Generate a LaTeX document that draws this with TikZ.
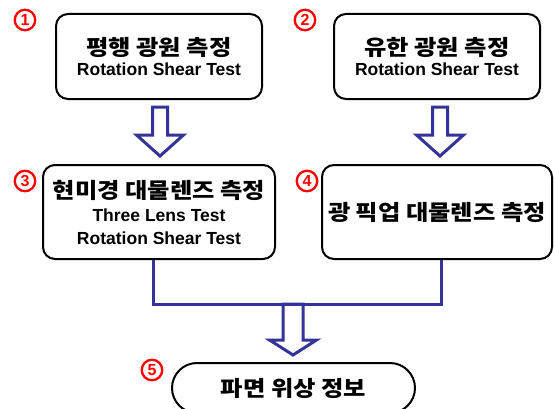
\documentclass[tikz,border=0pt]{standalone}
\usepackage{fontspec}
\setmainfont{Liberation Sans}
\newfontfamily\kr{Noto Sans CJK KR}[FakeStretch=1.13]
\definecolor{flowblue}{RGB}{51,51,153}
\tikzset{
  box/.style={draw, line width=2pt, rounded corners=12pt, align=center, inner sep=0pt,
    font=\bfseries\fontsize{17.5}{23}\selectfont},
  num/.style={circle, draw=red, line width=2.3pt, text=red, inner sep=0pt, minimum size=20.5pt,
    font=\bfseries\fontsize{16}{16}\selectfont},
  flow/.style={draw=flowblue, line width=3pt, miter limit=20},
}
\newcommand{\kor}[1]{{\kr\bfseries\fontsize{21.5}{23}\selectfont #1}}
\begin{document}
\begin{tikzpicture}[x=1pt,y=1pt]
	\useasboundingbox (0,0) rectangle (554,408);
	\node[box, minimum width=206pt, minimum height=85pt] (parallel) at (159,351.5) {\kor{평행 광원 측정}\\[-3pt]Rotation Shear Test};
	\node[box, minimum width=206pt, minimum height=85pt] (finite) at (437,351.5) {\kor{유한 광원 측정}\\[-3pt]Rotation Shear Test};
	\node[box, minimum width=232pt, minimum height=94pt] (microscope) at (159,196) {\kor{현미경 대물렌즈 측정}\\Three Lens Test\\Rotation Shear Test};
	\node[box, minimum width=230pt, minimum height=94pt] (pickup) at (437,196) {\kor{광 픽업 대물렌즈 측정}};
	\node[box, rounded corners=25pt, minimum width=243pt, minimum height=50pt] (phase) at (293.5,20) {\kor{파면 위상 정보}};
	\node[num] (n1) at (25,388) {1};
	\node[num] (n2) at (305,388) {2};
	\node[num] (n3) at (25,227) {3};
	\node[num] (n4) at (307,227) {4};
	\node[num] (n5) at (152,38) {5};
	% hollow block arrows
	\coordinate (a1) at (160,301);
	\coordinate (a2) at (440,301);
	\coordinate (join) at (293,104);
	\draw[flow] (a1) ++(-7.5,0) -- ++(0,-28) -- ++(-16,0) -- ++(23.5,-21) -- ++(23.5,21) -- ++(-16,0) -- ++(0,28) -- cycle;
	\draw[flow] (a2) ++(-7.5,0) -- ++(0,-28) -- ++(-16,0) -- ++(23.5,-21) -- ++(23.5,21) -- ++(-16,0) -- ++(0,28) -- cycle;
	\draw[flow] ([xshift=-6pt]microscope.south) |- (join) -| ([xshift=4pt]pickup.south);
	\draw[flow] (join) ++(-10,0) -- ++(0,-36) -- ++(-13.5,0) -- ++(23.5,-15) -- ++(23.5,15) -- ++(-13.5,0) -- ++(0,36) -- cycle;
\end{tikzpicture}
\end{document}
